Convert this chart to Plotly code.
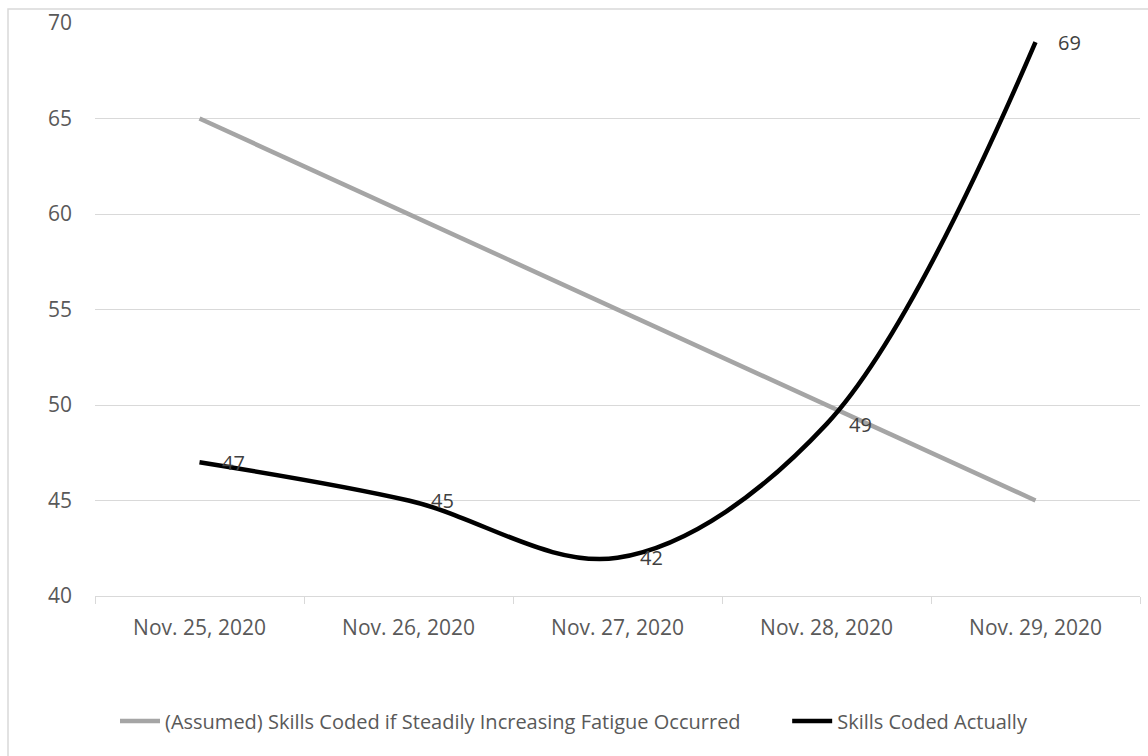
import plotly.graph_objects as go

categories = ["Nov. 25, 2020", "Nov. 26, 2020", "Nov. 27, 2020", "Nov. 28, 2020", "Nov. 29, 2020"]
assumed = [65, 60, 55, 50, 45]
actual = [47, 45, 42, 49, 69]
name_assumed = "(Assumed) Skills Coded if Steadily Increasing Fatigue Occurred"
name_actual = "Skills Coded Actually"

FONT = "Open Sans, DejaVu Sans, sans-serif"
FS = 20
TICK_FS = 21

fig = go.Figure()
fig.add_trace(go.Scatter(
    x=categories, y=assumed, mode="lines", name=name_assumed + "\u00a0" * 8,
    line=dict(color="#A5A5A5", width=4.5),
))
fig.add_trace(go.Scatter(
    x=categories, y=actual, mode="lines", name=name_actual,
    line=dict(color="#000000", width=4.5, shape="spline", smoothing=1.0),
))

for c, v in zip(categories, actual):
    fig.add_annotation(x=c, y=v, text=str(v), showarrow=False,
                       xanchor="left", yanchor="middle", xshift=20,
                       font=dict(size=FS, color="#404040", family=FONT))

W, H = 1148, 756
ml, mr, mt, mb = 95, 8, 23, 160
pw, ph = W - ml - mr, H - mt - mb

fig.update_layout(
    width=W, height=H,
    margin=dict(l=ml, r=mr, t=mt, b=mb),
    paper_bgcolor="white", plot_bgcolor="white",
    font=dict(family=FONT, size=FS, color="#595959"),
    showlegend=True,
    legend=dict(orientation="h", xref="container", x=0.5, xanchor="center",
                yref="container", y=(756 - 721) / 756, yanchor="middle",
                font=dict(size=FS, color="#595959"), itemwidth=40,
                tracegroupgap=0),
    xaxis=dict(type="category", range=[-0.5, 4.5], showgrid=False,
               showline=True, linecolor="#D9D9D9", linewidth=1,
               ticks="outside", tickson="boundaries", ticklen=7,
               tickcolor="#D9D9D9", tickfont=dict(size=TICK_FS, color="#595959"),
               ticklabelstandoff=13, fixedrange=True),
    yaxis=dict(range=[40, 70], dtick=5, tick0=40, showgrid=True,
               gridcolor="#D9D9D9", gridwidth=1, zeroline=False,
               showline=False, ticks="", ticklabelstandoff=22,
               tickfont=dict(size=TICK_FS, color="#595959"), fixedrange=True),
)

# outer chart border (Excel chart area)
x0 = (8 - ml) / pw
y1 = 1 + (mt - 9) / ph
fig.add_shape(type="rect", xref="paper", yref="paper",
              x0=x0, x1=1 + (mr + 10) / pw, y0=-(mb + 10) / ph, y1=y1,
              line=dict(color="#D9D9D9", width=1.5), layer="below")

fig.write_html("out.html")
